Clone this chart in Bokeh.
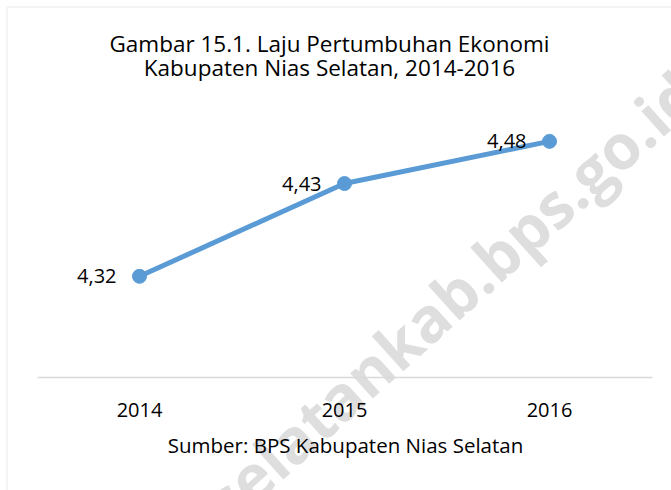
from bokeh.plotting import figure
from bokeh.models import Range1d, Label, ColumnDataSource, FixedTicker, BoxAnnotation
from bokeh.core.properties import value
from bokeh.embed import file_html
from bokeh.resources import INLINE

years = [2014, 2015, 2016]
growth = [4.32, 4.43, 4.48]
growth_labels = ["4,32", "4,43", "4,48"]
title_lines = ["Gambar 15.1. Laju Pertumbuhan Ekonomi", "Kabupaten Nias Selatan, 2014-2016"]
source_text = "Sumber: BPS Kabupaten Nias Selatan"
watermark_text = "selatankab.bps.go.id"

W, H = 671, 490
FONT = "Open Sans"
# scale: pixels per unit
XPX, YPX = 205.0, 843.3
X0_PX, Y0_PX = 139, 377          # pixel position of first year / 4.2 baseline
Y_BASE = 4.2

x_start = years[0] - X0_PX / XPX
x_end = x_start + W / XPX
y_end = Y_BASE + Y0_PX / YPX
y_start = y_end - H / YPX

p = figure(width=W, height=H, x_range=Range1d(x_start, x_end),
           y_range=Range1d(y_start, y_end), output_backend="svg", toolbar_location=None,
           min_border=0)
p.outline_line_color = None
p.xgrid.visible = False
p.ygrid.visible = False
p.yaxis.visible = False
p.background_fill_color = "white"
p.border_fill_color = "white"

ax = p.xaxis[0]
ax.fixed_location = Y_BASE
ax.bounds = (years[0] - 0.5, years[-1] + 0.5)
ax.ticker = FixedTicker(ticks=years)
ax.axis_line_color = "#d9d9d9"
ax.axis_line_width = 1.5
ax.major_tick_line_color = None
ax.minor_tick_line_color = None
ax.major_label_text_font = FONT
ax.major_label_text_font_size = "20px"
ax.major_label_text_color = "#000000"
ax.major_label_standoff = 19

def px_x(px):
    return x_start + px / XPX
def px_y(py):
    return y_end - py / YPX

# chart-area border (only top/left edges visible in the reference)
p.add_layout(BoxAnnotation(left=px_x(6.5), top=px_y(6.5), right=px_x(W + 20), bottom=px_y(H + 20),
                           fill_color=None, line_color="#d9d9d9", line_width=2, level="underlay"))

wm = Label(x=px_x(450), y=px_y(296), text=watermark_text, angle=42, angle_units="deg",
           text_align="center", text_baseline="middle", text_font=FONT,
           text_font_style="bold", text_font_size="62px", text_color="#dedede",
           level="underlay")
p.add_layout(wm)

src = ColumnDataSource(dict(x=years, y=growth, lab=growth_labels))
p.line("x", "y", source=src, line_color="#5b9bd5", line_width=5)
p.scatter("x", "y", source=src, size=14, fill_color="#5b9bd5", line_color="#5b9bd5")
p.text("x", "y", text="lab", source=src, x_offset=-23, text_align="right",
       text_baseline="middle", text_font=value(FONT), text_font_size="20px",
       text_color="#000000")

for line, py in zip(title_lines, [43, 67]):
    p.add_layout(Label(x=px_x(329), y=px_y(py), text=line, text_align="center",
                       text_baseline="middle", text_font=FONT, text_font_size="22.5px",
                       text_color="#000000"))

p.add_layout(Label(x=px_x(345), y=px_y(444), text=source_text, text_align="center",
                   text_baseline="middle", text_font=FONT, text_font_size="20.5px",
                   text_color="#000000"))

open("out.html", "w").write(file_html(p, INLINE))
